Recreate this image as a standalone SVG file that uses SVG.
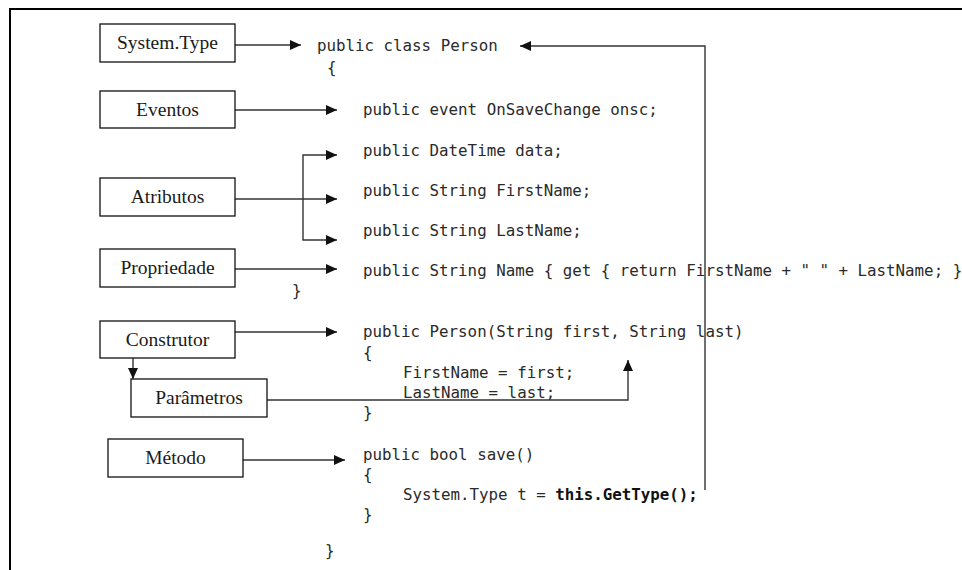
<svg xmlns="http://www.w3.org/2000/svg" width="962" height="570" viewBox="0 0 962 570">
  <style>
    .box { fill: #ffffff; stroke: #111111; stroke-width: 1.3; }
    .label { font-family: "Liberation Serif", "Times New Roman", serif; font-size: 19.5px; fill: #1a1a1a; text-anchor: middle; }
    .code { font-family: "DejaVu Sans Mono", "Liberation Mono", monospace; font-size: 15.8px; fill: #2a2a2a; }
    .bold { font-weight: bold; fill: #111111; }
    .conn { fill: none; stroke: #333333; stroke-width: 1.4; }
  </style>
  <defs>
    <marker id="arrow" markerUnits="userSpaceOnUse" markerWidth="11" markerHeight="10" viewBox="0 0 11 10" refX="11" refY="5" orient="auto">
      <path d="M0,0 L11,5 L0,10 z" fill="#111111"/>
    </marker>
  </defs>

  <rect x="0" y="0" width="962" height="570" fill="#ffffff"/>
  <!-- page frame -->
  <path d="M10,570 V9 H962" fill="none" stroke="#000000" stroke-width="2"/>

  <!-- source code listing -->
  <g id="code">
    <text class="code" x="317" y="51">public class Person</text>
    <text class="code" x="327" y="73">{</text>
    <text class="code" x="363" y="115">public event OnSaveChange onsc;</text>
    <text class="code" x="363" y="156">public DateTime data;</text>
    <text class="code" x="363" y="196">public String FirstName;</text>
    <text class="code" x="363" y="236">public String LastName;</text>
    <text class="code" x="363" y="276">public String Name { get { return FirstName + " " + LastName; }</text>
    <text class="code" x="292" y="296">}</text>
    <text class="code" x="363" y="337">public Person(String first, String last)</text>
    <text class="code" x="363" y="358">{</text>
    <text class="code" x="403" y="378">FirstName = first;</text>
    <text class="code" x="403" y="398">LastName = last;</text>
    <text class="code" x="363" y="418">}</text>
    <text class="code" x="363" y="460">public bool save()</text>
    <text class="code" x="363" y="480">{</text>
    <text class="code" x="403" y="500" xml:space="preserve">System.Type t = <tspan class="bold">this.GetType();</tspan></text>
    <text class="code" x="363" y="520">}</text>
    <text class="code" x="325" y="556">}</text>
  </g>

  <!-- connectors -->
  <g id="connectors">
    <path class="conn" d="M235,45 H301" marker-end="url(#arrow)"/>
    <path class="conn" d="M235,110 H337" marker-end="url(#arrow)"/>
    <path class="conn" d="M235,199 H337" marker-end="url(#arrow)"/>
    <path class="conn" d="M303,199 V155 H337" marker-end="url(#arrow)"/>
    <path class="conn" d="M303,199 V240 H337" marker-end="url(#arrow)"/>
    <path class="conn" d="M235,269 H337" marker-end="url(#arrow)"/>
    <path class="conn" d="M235,332 H337" marker-end="url(#arrow)"/>
    <path class="conn" d="M133,358 V379" marker-end="url(#arrow)"/>
    <path class="conn" d="M267,400 H628 V360" marker-end="url(#arrow)"/>
    <path class="conn" d="M243,460 H345" marker-end="url(#arrow)"/>
    <path class="conn" d="M705,490 V46 H520" marker-end="url(#arrow)"/>
  </g>

  <!-- label boxes -->
  <g id="system-type">
    <rect class="box" x="100" y="24" width="135" height="38"/>
    <text class="label" x="167.5" y="49">System.Type</text>
  </g>
  <g id="eventos">
    <rect class="box" x="100" y="91" width="135" height="37"/>
    <text class="label" x="167.5" y="116">Eventos</text>
  </g>
  <g id="atributos">
    <rect class="box" x="100" y="178" width="135" height="38"/>
    <text class="label" x="167.5" y="203">Atributos</text>
  </g>
  <g id="propriedade">
    <rect class="box" x="100" y="249" width="135" height="38"/>
    <text class="label" x="167.5" y="274">Propriedade</text>
  </g>
  <g id="construtor">
    <rect class="box" x="100" y="321" width="135" height="37"/>
    <text class="label" x="167.5" y="346">Construtor</text>
  </g>
  <g id="parametros">
    <rect class="box" x="131" y="379" width="136" height="38"/>
    <text class="label" x="199" y="404">Parâmetros</text>
  </g>
  <g id="metodo">
    <rect class="box" x="108" y="439" width="135" height="38"/>
    <text class="label" x="175.5" y="464">Método</text>
  </g>
</svg>
